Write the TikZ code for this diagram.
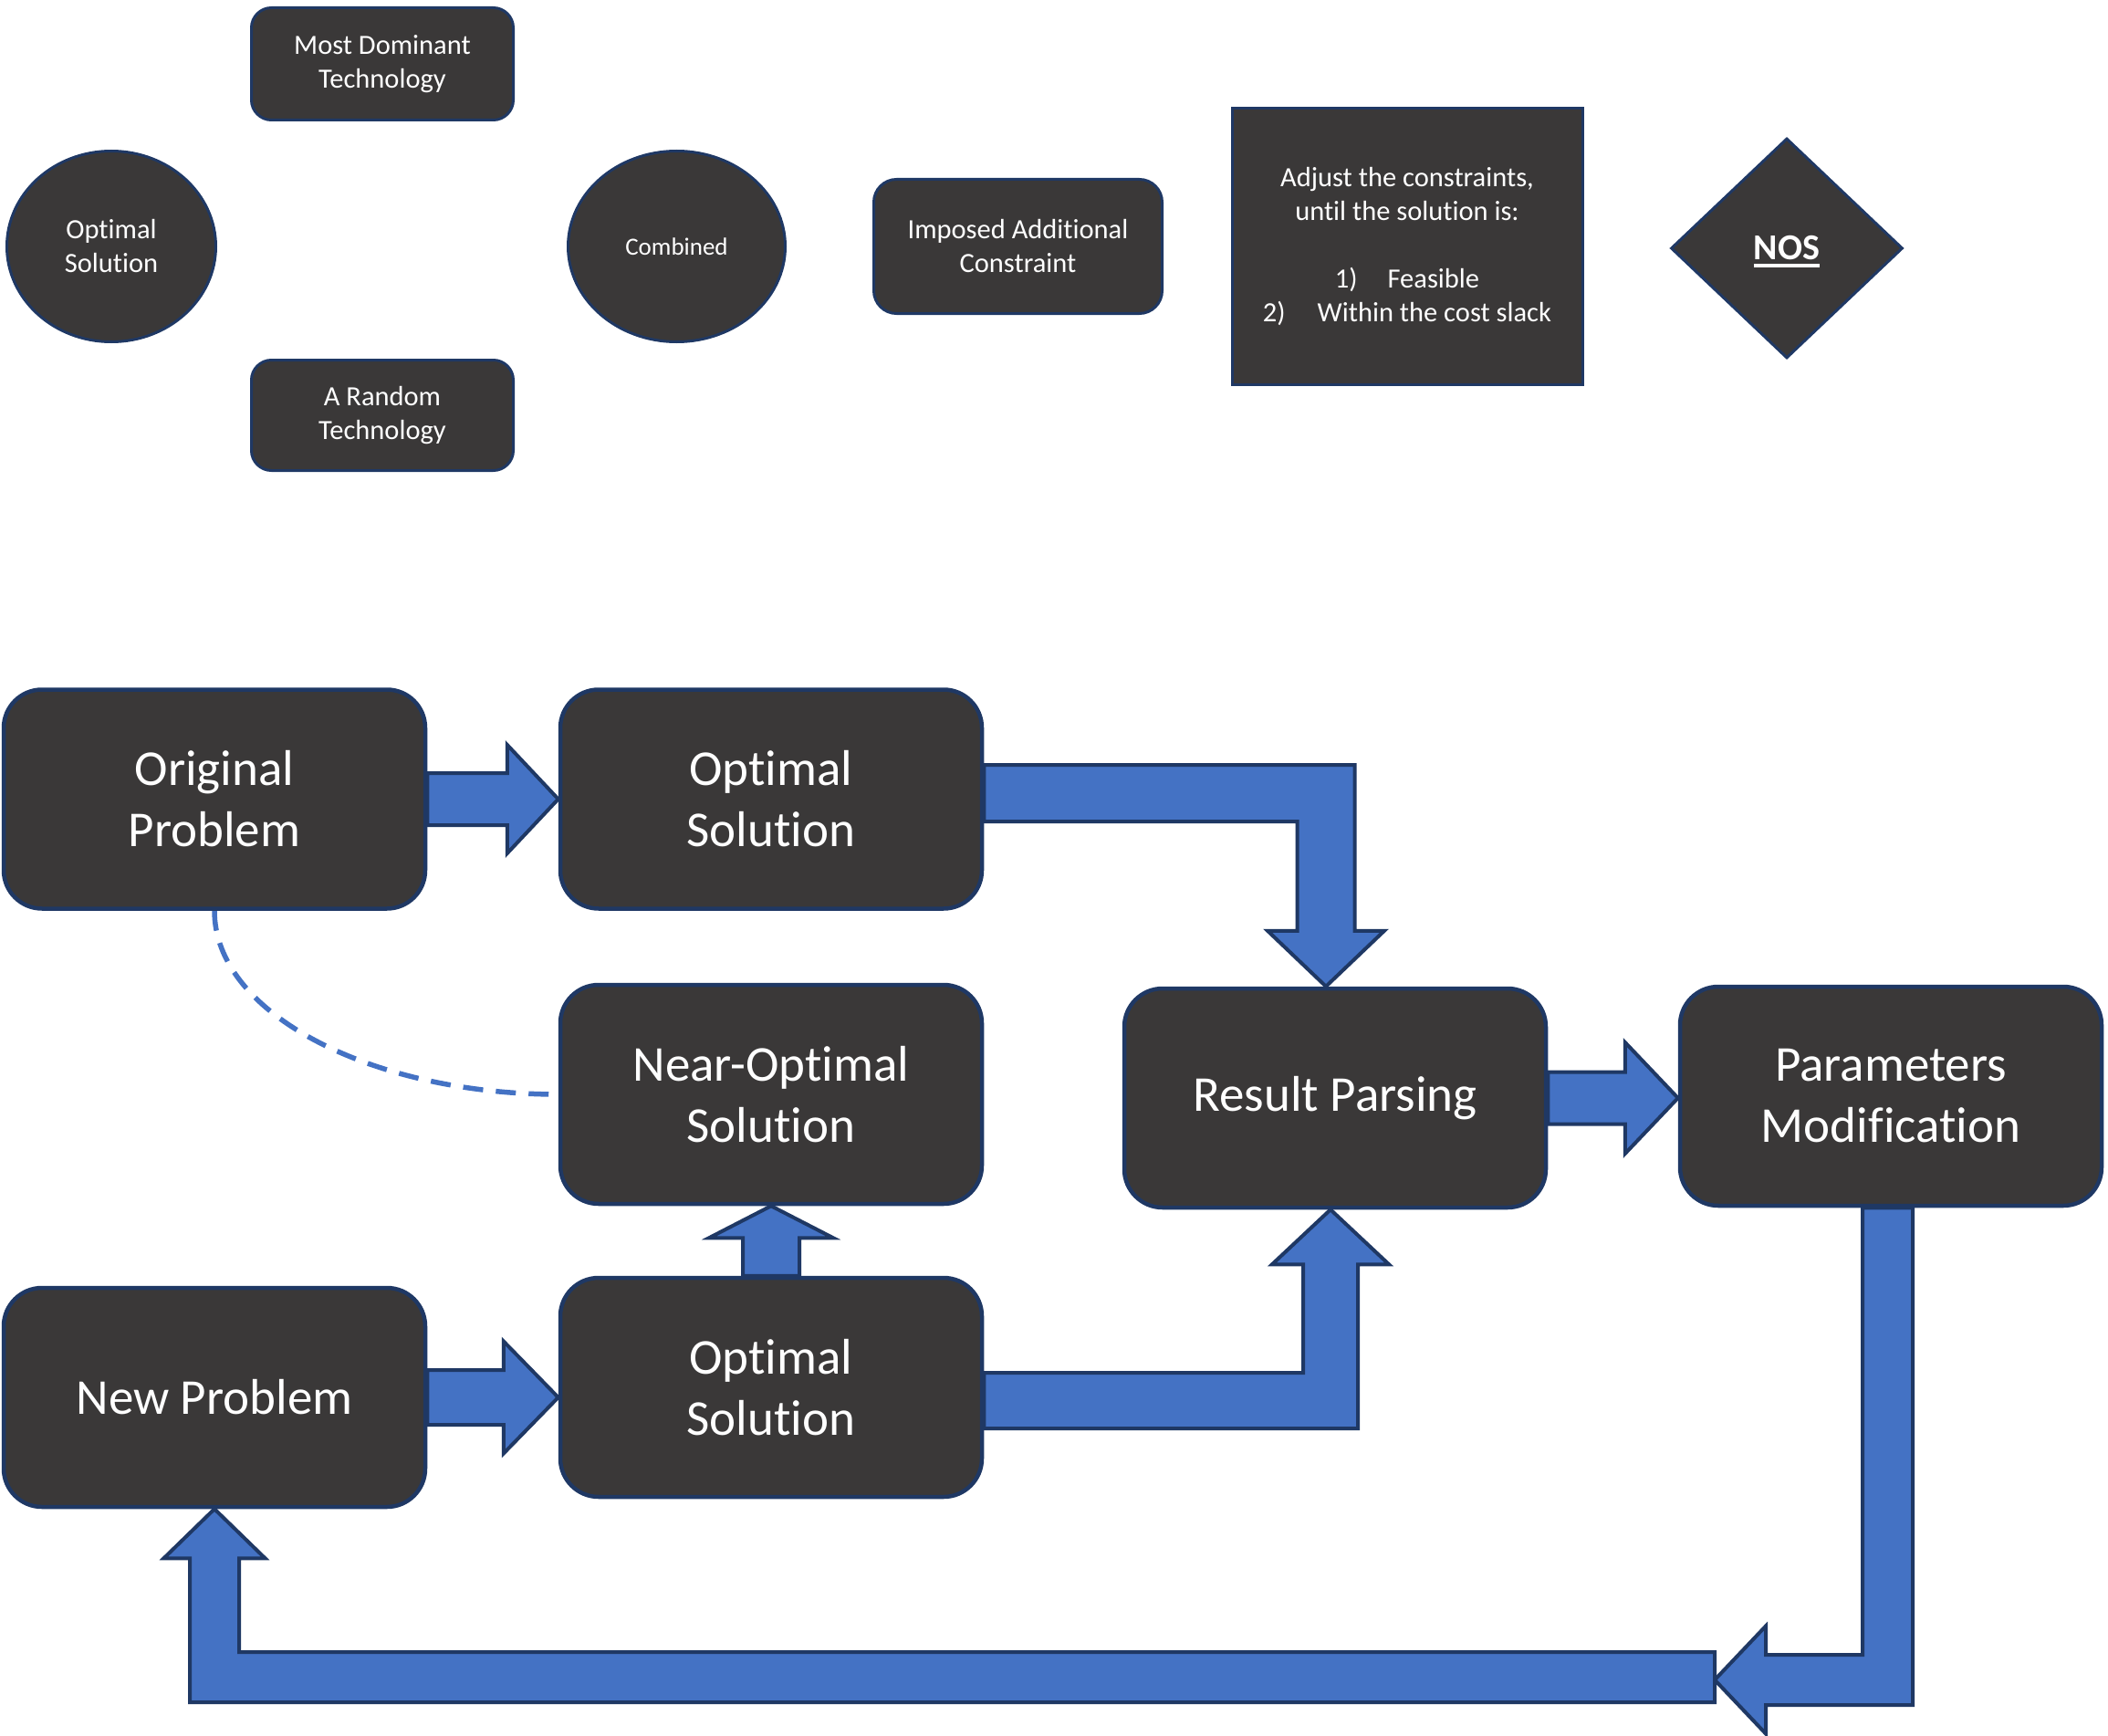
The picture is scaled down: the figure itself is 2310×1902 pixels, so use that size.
\documentclass[tikz,border=0pt]{standalone}
\usepackage{fontspec}
\setmainfont{Carlito}[Ligatures={NoCommon}]
\usetikzlibrary{shapes.geometric,calc,backgrounds}
\definecolor{boxfill}{HTML}{3A3838}
\definecolor{navy}{HTML}{1F3864}
\definecolor{ablue}{HTML}{4472C4}
\newsavebox\ulbox
\newcommand\thickul[1]{\sbox\ulbox{#1}\rlap{\smash{\rule[-8pt]{\wd\ulbox}{3.6pt}}}\usebox\ulbox}
% straight right block arrow: start, tip, shaft half width, head half width, head length
\newcommand\harrowR[5]{\draw[blk] ($(#1)+(0,-#3)$) -- ($(#2)+(-#5,-#3)$) -- ($(#2)+(-#5,-#4)$) -- (#2) -- ($(#2)+(-#5,#4)$) -- ($(#2)+(-#5,#3)$) -- ($(#1)+(0,#3)$) -- cycle;}
\begin{document}
\begin{tikzpicture}[x=1pt,y=-1pt,
  bigbox/.style={draw=navy, fill=boxfill, line width=4.5pt, rounded corners=42pt,
    minimum width=462pt, minimum height=240pt, inner sep=0pt, align=center,
    text=white, font=\fontsize{55}{67}\selectfont},
  smallbox/.style={draw=navy, fill=boxfill, line width=3pt, text=white, align=center,
    inner sep=0pt, font=\fontsize{30.5}{37}\selectfont},
  blk/.style={fill=ablue, draw=navy, line width=4pt, line join=miter},
  dashlink/.style={draw=ablue, line width=5.5pt, dash pattern=on 22pt off 14pt}]
\useasboundingbox (0,0) rectangle (2310,1902);

% ---------- top row ----------
\node[smallbox, rounded corners=22pt, minimum width=287pt, minimum height=123pt] (mdt) at (419,70) {Most Dominant\\Technology};
\node[smallbox, rounded corners=22pt, minimum width=287pt, minimum height=121pt] (rand) at (419,455) {A Random\\Technology};
\node[smallbox, ellipse, minimum width=229pt, minimum height=209pt] (optE) at (122,270) {Optimal\\Solution};
\node[smallbox, ellipse, minimum width=238pt, minimum height=209pt, font=\fontsize{27}{33}\selectfont] (comb) at (741.5,270) {Combined};
\node[smallbox, rounded corners=25pt, minimum width=316pt, minimum height=147pt] (imp) at (1115.5,270) {Imposed Additional\\Constraint};
\node[smallbox, minimum width=384pt, minimum height=302pt] (adj) at (1542,270)
  {Adjust the constraints,\\until the solution is:\\[37pt]1)\hspace{33pt}Feasible\\2)\hspace{35pt}Within the cost slack};
\node[smallbox, diamond, minimum width=254pt, minimum height=241pt, font=\fontsize{40}{46}\selectfont\bfseries] (nos) at (1958,272) {\thickul{NOS}};

% ---------- flow chart ----------
\node[bigbox] (op) at (235,875.5) {Original\\Problem};
\node[bigbox] (os1) at (845,875.5) {Optimal\\Solution};
\node[bigbox] (near) at (845,1199) {Near-Optimal\\Solution};
\node[bigbox] (rp) at (1463,1203) {Result Parsing};
\node[bigbox] (pm) at (2072,1201) {Parameters\\Modification};
\node[bigbox] (np) at (235,1531) {New Problem};
\node[bigbox] (os2) at (845,1520) {Optimal\\Solution};

\coordinate (tip2) at (os2.west |- np.east);
\coordinate (tip3) at (pm.west |- rp.east);
\coordinate (a1) at ($(os1.east)+(0,-6.5)$);
\coordinate (t1) at ($(rp.north)+(-10,0)$);
\coordinate (a2) at ($(os2.east)+(0,14.5)$);
\coordinate (t2) at ($(rp.south)+(-5,0)$);
\coordinate (a3) at ($(pm.south)+(-3.5,0)$);
\coordinate (ret) at (1879,1840.5);
\coordinate (r4) at ($(ret)+(0,-3)$);
\coordinate (t4) at (np.south);

\begin{scope}[on background layer]
\fill[white] (0,0) rectangle (2310,1902);
% straight arrows
\harrowR{op.east}{os1.west}{28.5}{59.5}{56}
\harrowR{np.east}{tip2}{30}{61.5}{60}
\harrowR{rp.east}{tip3}{28.5}{61}{58}
% up arrow
\draw[blk] ($(os2.north)+(-31,0)$) -- ($(near.south)+(-31,35)$) -- ($(near.south)+(-68,35)$) -- (near.south)
  -- ($(near.south)+(68,35)$) -- ($(near.south)+(31,35)$) -- ($(os2.north)+(31,0)$) -- cycle;
% elbow os1 -> rp
\draw[blk] ($(a1)+(0,-31)$) -- ($(a1 -| t1)+(31.5,-31)$) -- ($(t1)+(31.5,-61)$) -- ($(t1)+(64,-61)$) -- (t1)
  -- ($(t1)+(-64,-61)$) -- ($(t1)+(-31.5,-61)$) -- ($(a1 -| t1)+(-31.5,31)$) -- ($(a1)+(0,31)$) -- cycle;
% elbow os2 -> rp
\draw[blk] ($(a2)+(0,30.5)$) -- ($(a2 -| t2)+(30,30.5)$) -- ($(t2)+(30,60)$) -- ($(t2)+(64,60)$) -- (t2)
  -- ($(t2)+(-64,60)$) -- ($(t2)+(-30,60)$) -- ($(a2 -| t2)+(-30,-30.5)$) -- ($(a2)+(0,-30.5)$) -- cycle;
% elbow pm -> down -> left
\draw[blk] ($(a3)+(-27.5,0)$) -- ($(a3)+(27.5,0)$) -- ($(a3 |- ret)+(27.5,27.5)$) -- ($(ret)+(56,27.5)$)
  -- ($(ret)+(56,59)$) -- (ret) -- ($(ret)+(56,-59)$) -- ($(ret)+(56,-27.5)$) -- ($(a3 |- ret)+(-27.5,-27.5)$) -- cycle;
% elbow left -> up -> np
\draw[blk] ($(r4)+(0,-27.5)$) -- ($(r4)+(0,27.5)$) -- ($(r4 -| t4)+(-27,27.5)$) -- ($(t4)+(-27,54)$)
  -- ($(t4)+(-55.5,54)$) -- (t4) -- ($(t4)+(55.5,54)$) -- ($(t4)+(27,54)$) -- ($(r4 -| t4)+(27,-27.5)$) -- cycle;
% dashed link
\draw[dashlink] (op.south) .. controls ($(op.south)+(0,115)$) and ($(near.west)+(-200,0)$) .. (near.west);
\end{scope}
\end{tikzpicture}
\end{document}
